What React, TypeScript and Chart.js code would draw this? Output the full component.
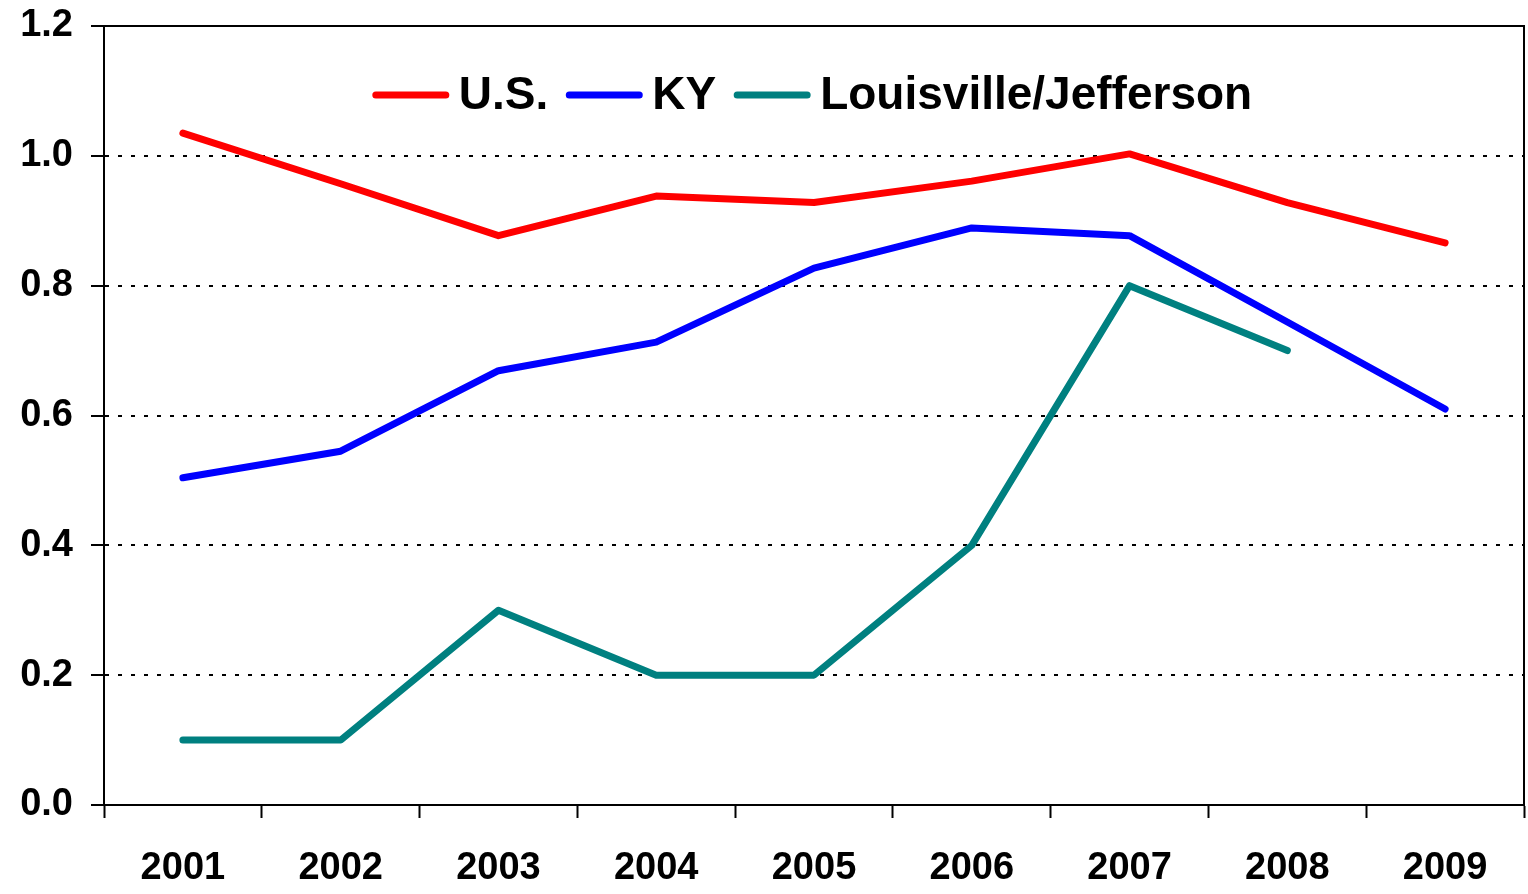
import React, { useEffect, useRef } from "react";
import { Chart, registerables } from "chart.js";

Chart.register(...registerables);

const years = ["2001", "2002", "2003", "2004", "2005", "2006", "2007", "2008", "2009"];
const usValues = [1.035, 0.957, 0.877, 0.938, 0.928, 0.961, 1.003, 0.928, 0.866];
const kyValues = [0.504, 0.545, 0.669, 0.713, 0.827, 0.889, 0.877, 0.744, 0.61];
const louisvilleValues: (number | null)[] = [0.1, 0.1, 0.3, 0.2, 0.2, 0.4, 0.8, 0.7, null];
const seriesNames = ["U.S.", "KY", "Louisville/Jefferson"];
const seriesColors = ["#ff0000", "#0000ff", "#008080"];

const FONT = "'Liberation Sans', Arial, sans-serif";

const frameAndLegend = {
  id: "frameAndLegend",
  afterDraw(chart: any) {
    const { ctx, chartArea } = chart;
    ctx.save();
    ctx.strokeStyle = "#000";
    ctx.lineWidth = 2;
    ctx.setLineDash([]);
    ctx.beginPath();
    ctx.moveTo(chartArea.left, chartArea.top);
    ctx.lineTo(chartArea.right, chartArea.top);
    ctx.lineTo(chartArea.right, chartArea.bottom);
    ctx.stroke();

    // legend inside plot area
    ctx.font = `bold 46px ${FONT}`;
    const lineLen = 70;
    const gapLineText = 13;
    const gapItems = 21;
    const items = chart.data.datasets.map((d: any) => ({
      label: d.label,
      color: d.borderColor,
      w: lineLen + gapLineText + ctx.measureText(d.label).width,
    }));
    const total = items.reduce((s: number, it: any) => s + it.w, 0) + gapItems * (items.length - 1);
    let x = (chartArea.left + chartArea.right) / 2 - total / 2;
    const y = 95;
    ctx.textBaseline = "middle";
    ctx.textAlign = "left";
    for (const it of items) {
      ctx.strokeStyle = it.color;
      ctx.lineWidth = 7;
      ctx.lineCap = "round";
      ctx.beginPath();
      ctx.moveTo(x, y);
      ctx.lineTo(x + lineLen, y);
      ctx.stroke();
      ctx.fillStyle = "#000";
      ctx.fillText(it.label, x + lineLen + gapLineText, y + 1);
      x += it.w + gapItems;
    }
    ctx.restore();
  },
};

export default function App() {
  const ref = useRef<HTMLCanvasElement>(null);
  useEffect(() => {
    document.body.style.margin = "0";
    const values = [usValues, kyValues, louisvilleValues];
    const chart = new Chart(ref.current!, {
      type: "line",
      data: {
        labels: years,
        datasets: seriesNames.map((name, i) => ({
          label: name,
          data: values[i],
          borderColor: seriesColors[i],
          backgroundColor: seriesColors[i],
          borderWidth: 7,
          pointRadius: 0,
          tension: 0,
          borderCapStyle: "round" as const,
          borderJoinStyle: "round" as const,
          spanGaps: false,
        })),
      },
      options: {
        animation: false,
        responsive: false,
        maintainAspectRatio: false,
        layout: { padding: { top: 26, right: 4, left: 0, bottom: 0 } },
        plugins: { legend: { display: false }, tooltip: { enabled: false } },
        scales: {
          x: {
            offset: true,
            grid: {
              offset: true,
              drawOnChartArea: false,
              drawTicks: true,
              tickLength: 13,
              tickWidth: 2,
              tickColor: "#000",
              color: "#000",
            },
            border: { display: true, color: "#000", width: 2 },
            ticks: {
              color: "#000",
              font: { family: FONT, size: 38, weight: "bold" },
              padding: 28,
              maxRotation: 0,
              autoSkip: false,
            },
            afterFit: (scale: any) => {
              scale.height = 89;
              scale.paddingLeft = 0;
              scale.paddingRight = 0;
            },
          },
          y: {
            min: 0,
            max: 1.2,
            grid: {
              color: "#000",
              lineWidth: 2,
              drawTicks: true,
              tickLength: 13,
              tickWidth: 2,
              tickColor: "#000",
              tickBorderDash: [],
            },
            border: { display: true, color: "#000", width: 2, dash: [4, 9] },
            ticks: {
              stepSize: 0.2,
              color: "#000",
              font: { family: FONT, size: 38, weight: "bold" },
              padding: 18,
              callback: (v: any) => Number(v).toFixed(1),
            },
            afterFit: (scale: any) => {
              scale.width = 104;
              scale.paddingTop = 0;
              scale.paddingBottom = 0;
            },
          },
        },
      },
      plugins: [frameAndLegend],
    });
    return () => chart.destroy();
  }, []);
  return (
    <div style={{ position: "absolute", left: 0, top: 0, width: 1528, height: 894 }}>
      <canvas ref={ref} width={1528} height={894} style={{ display: "block" }} />
    </div>
  );
}
